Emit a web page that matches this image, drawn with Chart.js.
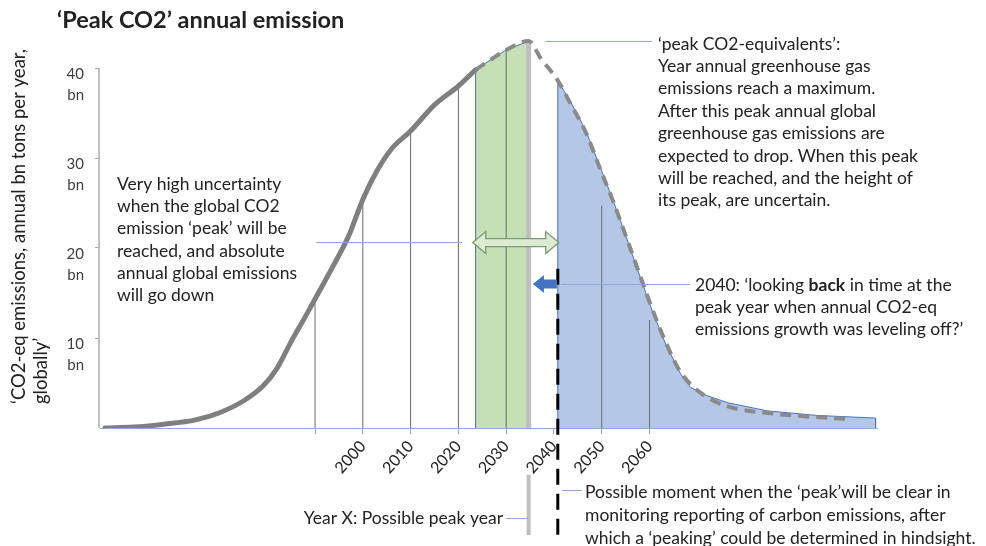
<!DOCTYPE html>
<html>
<head>
 <title>'Peak CO2' annual emission</title>
 <script src="https://cdn.jsdelivr.net/npm/chart.js"></script>
 <style>
  html, body { margin: 0; padding: 0; background: #fff; }
  #chart-container { width: 986px; height: 546px; }
 </style>
</head>
<body>
 <div id="chart-container">
  <canvas id="peakChart" width="986" height="546"></canvas>
 </div>

 <script>
  // Emissions, bn tons CO2-eq per year
  const historyYears  = [1946, 1952, 1958, 1965, 1970, 1975, 1979, 1982, 1985, 1988, 1991, 1994, 1997, 2000, 2003, 2006, 2010, 2015, 2020, 2023.6];
  const historyValues = [0, 0.1, 0.4, 0.9, 1.7, 3.0, 4.6, 6.6, 9.6, 12.4, 15.3, 18.2, 21.3, 25.4, 28.6, 31.0, 33.0, 35.9, 38.0, 39.8];

  const outlookYears  = [2023.6, 2027, 2030, 2034.7, 2037.2, 2040.8, 2043.5, 2046.7, 2049.8, 2052.3, 2055, 2057.5, 2060.3, 2063.4, 2066.5, 2070.7, 2076.4, 2084.7, 2091.6, 2101.5];
  const outlookValues = [39.8, 41.0, 42.0, 43.0, 41.1, 38.6, 36.0, 32.8, 28.6, 25.3, 21.4, 17.7, 13.6, 9.5, 6.2, 3.9, 2.4, 1.66, 1.33, 1.0];

  // green band: window in which the peak may fall
  const peakBandYears  = [2023.6, 2023.6, 2027, 2030, 2034.7, 2034.7];
  const peakBandValues = [0, 39.8, 41.0, 42.0, 43.0, 0];

  // blue area: emissions after 2040
  const declineYears  = [2040.8, 2040.8, 2043.5, 2046.7, 2049.8, 2052.3, 2055, 2057.5, 2060.3, 2063.4, 2066.5, 2068.6, 2072, 2076.4, 2084.7, 2095, 2107.3, 2107.3];
  const declineValues = [0, 38.6, 36.2, 33.0, 28.8, 25.4, 21.4, 17.6, 13.4, 9.3, 6.0, 4.5, 3.6, 2.8, 1.9, 1.4, 1.1, 0];

  // thin drop lines from the axis up to the curve
  const dropYears  = [1990, 2000, 2010, 2020, 2030, 2050, 2060];
  const dropValues = [14.5, 25.4, 33.0, 37.8, 42.1, 24.7, 12.0];

  const peakYear = 2034.7, peakValue = 43.0;
  const yearXMarker = [-5.2, -11.9];          // grey bar under the axis
  const lookBackYear = 2040.8;
  const lookBackMarker = [17.7, -12.4];       // black dashed line

  const xTickYears  = [1990, 2000, 2010, 2020, 2030, 2040, 2050, 2060];
  const xTickLabels = ['', '2000', '2010', '2020', '2030', '2040', '2050', '2060'];
  const yTickValues = [10, 20, 30, 40];
  const yTickLabels = [['10', 'bn'], ['20', 'bn'], ['30', 'bn'], ['40', 'bn']];

  const FONT = 'Lato';
  const TEXT = '#222222';
  const BODY = 17.5;

  const pts = (xs, ys) => xs.map((x, i) => ({ x: x, y: ys[i] }));

  const dropData = [];
  dropYears.forEach((yr, i) => {
   dropData.push({ x: yr, y: 0 }, { x: yr, y: dropValues[i] }, { x: yr, y: null });
  });

  // plain text helper, segments may be bold
  function drawRich(ctx, line, x, y, size) {
   const segs = typeof line === 'string' ? [[line, false]] : line;
   let cx = x;
   segs.forEach(([t, bold]) => {
    ctx.font = (bold ? 'bold ' : '') + size + 'px ' + FONT;
    ctx.fillText(t, cx, y);
    cx += ctx.measureText(t).width;
   });
  }
  function drawBlock(ctx, lines, x, y, lh, size) {
   lines.forEach((l, i) => drawRich(ctx, l, x, y + i * lh, size));
  }

  function arrowPath(ctx, x1, x2, y, headLen, headH, shaftH, both) {
   ctx.beginPath();
   ctx.moveTo(x1, y);
   ctx.lineTo(x1 + headLen, y - headH);
   ctx.lineTo(x1 + headLen, y - shaftH);
   if (both) {
    ctx.lineTo(x2 - headLen, y - shaftH);
    ctx.lineTo(x2 - headLen, y - headH);
    ctx.lineTo(x2, y);
    ctx.lineTo(x2 - headLen, y + headH);
    ctx.lineTo(x2 - headLen, y + shaftH);
   } else {
    ctx.lineTo(x2, y - shaftH);
    ctx.lineTo(x2, y + shaftH);
   }
   ctx.lineTo(x1 + headLen, y + shaftH);
   ctx.lineTo(x1 + headLen, y + headH);
   ctx.closePath();
  }

  const annotations = {
   id: 'annotations',
   afterDatasetsDraw(chart) {
    const ctx = chart.ctx;
    const xs = chart.scales.x, ys = chart.scales.y;
    ctx.save();

    // y axis line
    ctx.strokeStyle = '#bfbfbf';
    ctx.lineWidth = 2;
    ctx.beginPath();
    ctx.moveTo(xs.left - 1, ys.getPixelForValue(0));
    ctx.lineTo(xs.left - 1, ys.getPixelForValue(40));
    ctx.stroke();

    // uncertainty double arrow
    arrowPath(ctx, xs.getPixelForValue(2023.0), xs.getPixelForValue(2041.0), ys.getPixelForValue(20.6), 13, 11, 4, true);
    ctx.fillStyle = '#dcebd1';
    ctx.fill();
    ctx.strokeStyle = '#7d9c75';
    ctx.lineWidth = 1.3;
    ctx.stroke();

    // look back arrow
    arrowPath(ctx, xs.getPixelForValue(2035.6), xs.getPixelForValue(2040.6), ys.getPixelForValue(16.0), 11, 9, 4.5, false);
    ctx.fillStyle = '#4472c4';
    ctx.fill();

    // leader lines
    ctx.strokeStyle = '#8faadc';
    ctx.lineWidth = 1;
    [[545, 41, 652, 41], [316, 242, 462, 242], [561, 284, 690, 284], [506, 518, 528, 518], [562, 490, 582, 490]]
     .forEach(([a, b, c, d]) => {
      ctx.beginPath();
      ctx.moveTo(a, b + 0.5);
      ctx.lineTo(c, d + 0.5);
      ctx.stroke();
     });

    // texts
    ctx.fillStyle = TEXT;
    ctx.textBaseline = 'middle';
    ctx.textAlign = 'left';

    ctx.font = 'bold 23.5px ' + FONT;
    ctx.fillText('\u2018Peak CO2\u2019 annual emission', 57, 20);

    drawBlock(ctx, [
     '\u2018peak CO2-equivalents\u2019:',
     'Year annual greenhouse gas',
     'emissions reach a maximum.',
     'After this peak annual global',
     'greenhouse gas emissions are',
     'expected to drop. When this peak',
     'will be reached, and the height of',
     'its peak, are uncertain.'
    ], 658, 44, 22.4, BODY);

    drawBlock(ctx, [
     'Very high uncertainty',
     'when the global CO2',
     'emission \u2018peak\u2019 will be',
     'reached, and absolute',
     'annual global emissions',
     'will go down'
    ], 117, 184, 22.3, BODY);

    drawBlock(ctx, [
     [['2040: \u2018looking ', false], ['back', true], [' in time at the', false]],
     'peak year when annual CO2-eq',
     'emissions growth was leveling off?\u2019'
    ], 695, 285, 22.2, BODY);

    ctx.textAlign = 'right';
    drawBlock(ctx, ['Year X: Possible peak year'], 503, 518, 22, BODY);
    ctx.textAlign = 'left';

    drawBlock(ctx, [
     'Possible moment when the \u2018peak\u2019will be clear in',
     'monitoring reporting of carbon emissions, after',
     'which a \u2018peaking\u2019 could be determined in hindsight.'
    ], 585, 492, 23, BODY);

    // rotated y axis title
    ctx.translate(19, 404);
    ctx.rotate(-Math.PI / 2);
    drawBlock(ctx, [
     '\u2018CO2-eq emissions, annual bn tons per year,',
     'globally\u2019'
    ], 0, 0, 22, 18.5);

    ctx.restore();
   }
  };

  const ctx = document.getElementById('peakChart').getContext('2d');
  const chart = new Chart(ctx, {
   type: 'line',
   data: {
    datasets: [
     { // projection, dashed
      data: pts(outlookYears, outlookValues),
      borderColor: '#8a8a8a', borderWidth: 4, borderDash: [11, 7],
      cubicInterpolationMode: 'monotone', fill: false, order: 1
     },
     { // history, solid
      data: pts(historyYears, historyValues),
      borderColor: '#7f7f7f', borderWidth: 5, borderCapStyle: 'round',
      cubicInterpolationMode: 'monotone', fill: false, order: 2
     },
     { // 2040 look back moment
      data: pts([lookBackYear, lookBackYear], lookBackMarker),
      borderColor: '#000000', borderWidth: 3, borderDash: [16, 9],
      fill: false, clip: false, order: 0
     },
     { // year X bar under the axis
      data: pts([peakYear, peakYear], yearXMarker),
      borderColor: '#bfbfbf', borderWidth: 4, fill: false, clip: false, order: 3
     },
     { // peak bar
      data: pts([peakYear, peakYear], [0, peakValue]),
      borderColor: '#bfbfbf', borderWidth: 5, fill: false, order: 4
     },
     { // drop lines
      data: dropData,
      borderColor: '#6b6b6b', borderWidth: 1, spanGaps: false, fill: false, order: 5
     },
     { // after 2040
      data: pts(declineYears, declineValues),
      borderColor: '#4472c4', borderWidth: 1, backgroundColor: '#b4c7e7',
      fill: 'origin', order: 6
     },
     { // peak window
      data: pts(peakBandYears, peakBandValues),
      borderColor: '#4472c4', borderWidth: 1, backgroundColor: '#c5e0b4',
      fill: 'origin', order: 7
     }
    ]
   },
   options: {
    responsive: false,
    animation: false,
    layout: { padding: { left: 0, right: 109, top: 31, bottom: 0 } },
    elements: { point: { radius: 0 }, line: { tension: 0 } },
    plugins: { legend: { display: false }, tooltip: { enabled: false } },
    scales: {
     x: {
      type: 'linear',
      min: 1945,
      max: 2107.6,
      afterFit: s => { s.height = 118; },
      afterBuildTicks: s => { s.ticks = xTickYears.map(v => ({ value: v })); },
      grid: { drawOnChartArea: false, tickLength: 6, color: '#8faadc' },
      border: { color: '#8faadc', width: 1 },
      ticks: {
       autoSkip: false,
       minRotation: 48,
       maxRotation: 48,
       padding: 3,
       color: TEXT,
       font: { family: FONT, size: 16 },
       callback: v => xTickLabels[xTickYears.indexOf(v)]
      }
     },
     y: {
      min: 0,
      max: 44,
      afterFit: s => { s.width = 100; },
      afterBuildTicks: s => { s.ticks = yTickValues.map(v => ({ value: v })); },
      grid: { drawOnChartArea: false, tickLength: 5, color: '#8faadc' },
      border: { display: false },
      ticks: {
       padding: 11,
       labelOffset: 17,
       color: '#404040',
       font: { family: FONT, size: 15, lineHeight: 1.4 },
       callback: v => yTickLabels[yTickValues.indexOf(v)]
      }
     }
    }
   },
   plugins: [annotations]
  });
 </script>
</body>
</html>
